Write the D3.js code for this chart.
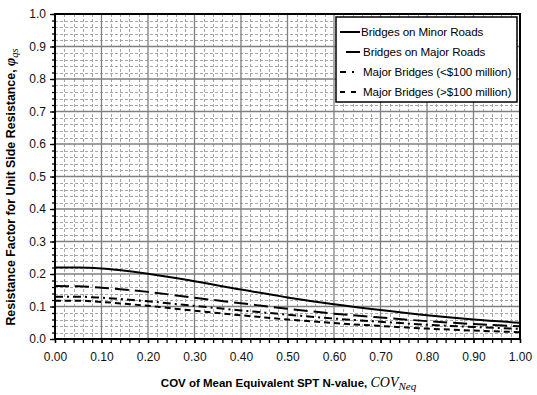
<!DOCTYPE html>
<html>
<head>
<meta charset="utf-8">
<script src="https://cdn.jsdelivr.net/npm/d3@7"></script>
<style>
  body { margin: 0; background: #fff; }
  svg { font-family: "Liberation Sans", Arial, sans-serif; }
</style>
</head>
<body>
<svg width="537" height="395"></svg>
<script>
// COV values along the x axis
var covValues = [0, 0.05, 0.1, 0.2, 0.3, 0.4, 0.5, 0.6, 0.7, 0.8, 0.9, 1.0];

var minorRoads   = [0.220, 0.220, 0.217, 0.201, 0.178, 0.152, 0.128, 0.107, 0.089, 0.073, 0.060, 0.050];
var majorRoads   = [0.163, 0.162, 0.158, 0.145, 0.127, 0.110, 0.093, 0.078, 0.066, 0.055, 0.046, 0.039];
var majorBelow   = [0.130, 0.130, 0.127, 0.116, 0.102, 0.088, 0.075, 0.063, 0.053, 0.044, 0.037, 0.031];
var majorAbove   = [0.118, 0.118, 0.114, 0.102, 0.087, 0.073, 0.060, 0.049, 0.040, 0.032, 0.026, 0.021];

var seriesNames = ["Bridges on Minor Roads", "Bridges on Major Roads",
                   "Major Bridges (<$100 million)", "Major Bridges (>$100 million)"];
var xTickValues = [0, 0.1, 0.2, 0.3, 0.4, 0.5, 0.6, 0.7, 0.8, 0.9, 1.0];
var yTickValues = [0, 0.1, 0.2, 0.3, 0.4, 0.5, 0.6, 0.7, 0.8, 0.9, 1.0];

(function() {
    var margin = {top: 14, left: 55, right: 17, bottom: 56},
        width = 537 - margin.left - margin.right,
        height = 395 - margin.top - margin.bottom;

    var svg = d3.select("svg");

    var x = d3.scaleLinear().domain([0, 1]).range([0, width]);
    var y = d3.scaleLinear().domain([0, 1]).range([height, 0]);

    var g = svg.append("g")
        .attr("transform", "translate(" + margin.left + "," + margin.top + ")");

    var minorSteps = d3.range(0, 51).map(function(i) { return i / 50; });
    var minorOnly = minorSteps.filter(function(d, i) { return i % 5 !== 0; });

    // minor grid (dashed)
    g.append("g").selectAll("line")
        .data(minorOnly).enter().append("line")
        .attr("x1", function(d) { return Math.round(x(d)) + 0.5; })
        .attr("x2", function(d) { return Math.round(x(d)) + 0.5; })
        .attr("y1", 0).attr("y2", height)
        .attr("stroke", "#a6a6a6").attr("stroke-width", 1).attr("stroke-dasharray", "3,2");
    g.append("g").selectAll("line")
        .data(minorOnly).enter().append("line")
        .attr("y1", function(d) { return Math.round(y(d)) + 0.5; })
        .attr("y2", function(d) { return Math.round(y(d)) + 0.5; })
        .attr("x1", 0).attr("x2", width)
        .attr("stroke", "#a6a6a6").attr("stroke-width", 1).attr("stroke-dasharray", "3,2");

    // major grid
    g.append("g").selectAll("line")
        .data(xTickValues).enter().append("line")
        .attr("x1", function(d) { return x(d); }).attr("x2", function(d) { return x(d); })
        .attr("y1", 0).attr("y2", height)
        .attr("stroke", "#7f7f7f").attr("stroke-width", 1.3);
    g.append("g").selectAll("line")
        .data(yTickValues).enter().append("line")
        .attr("y1", function(d) { return y(d); }).attr("y2", function(d) { return y(d); })
        .attr("x1", 0).attr("x2", width)
        .attr("stroke", "#7f7f7f").attr("stroke-width", 1.3);

    // curves
    var allSeries = [minorRoads, majorRoads, majorBelow, majorAbove];
    var dashes = [null, "14,6", "8,4,2,4", "6,4"];

    var line = d3.line()
        .x(function(d, i) { return x(covValues[i]); })
        .y(function(d) { return y(d); })
        .curve(d3.curveMonotoneX);

    g.append("g").selectAll("path")
        .data(allSeries).enter().append("path")
        .attr("d", line)
        .attr("fill", "none")
        .attr("stroke", "#000")
        .attr("stroke-width", 2)
        .attr("stroke-dasharray", function(d, i) { return dashes[i]; });

    // plot border
    g.append("rect")
        .attr("width", width).attr("height", height)
        .attr("fill", "none").attr("stroke", "#000").attr("stroke-width", 2);

    // axes
    var yMinor = d3.axisLeft(y).tickValues(minorSteps).tickSize(3).tickFormat("");
    var yMajor = d3.axisLeft(y).tickValues(yTickValues).tickSize(5).tickPadding(4)
        .tickFormat(d3.format(".1f"));
    var xMinor = d3.axisBottom(x).tickValues(minorSteps).tickSize(4).tickFormat("");
    var xMajor = d3.axisBottom(x).tickValues(xTickValues).tickSize(4).tickPadding(9)
        .tickFormat(d3.format(".2f"));

    [yMinor, yMajor].forEach(function(ax) {
        g.append("g").attr("class", "y axis").call(ax);
    });
    [xMinor, xMajor].forEach(function(ax) {
        g.append("g").attr("class", "x axis")
            .attr("transform", "translate(0," + height + ")").call(ax);
    });
    g.selectAll(".axis .domain").remove();
    g.selectAll(".axis line").attr("stroke", "#000").attr("stroke-width", 1.3);
    g.selectAll(".axis text")
        .attr("font-size", 12)
        .attr("font-family", "Liberation Sans, Arial, sans-serif")
        .attr("fill", "#111");

    // legend
    var legend = g.append("g").attr("transform", "translate(" + Math.round(x(0.605)) + "," + 3 + ")");
    legend.append("rect")
        .attr("width", Math.round(x(0.995) - x(0.605))).attr("height", 85)
        .attr("fill", "#fff").attr("stroke", "#000").attr("stroke-width", 1.5);
    var item = legend.selectAll("g.item")
        .data(seriesNames).enter().append("g")
        .attr("transform", function(d, i) { return "translate(0," + (15 + i * 20) + ")"; });
    item.append("line")
        .attr("x1", 4).attr("x2", 24)
        .attr("stroke", "#000").attr("stroke-width", 2)
        .attr("stroke-dasharray", function(d, i) { return [null, "0,6,14,6", "6,6,2,6", "5,6"][i]; });
    item.append("text")
        .attr("x", function(d, i) { return i === 0 ? 25 : 27; })
        .attr("dy", "0.35em")
        .attr("font-size", 11.6)
        .attr("letter-spacing", -0.1)
        .text(function(d) { return d; });

    // axis titles
    var xt = svg.append("text")
        .attr("x", margin.left + width / 2 + 1)
        .attr("y", 387)
        .attr("text-anchor", "middle")
        .attr("font-size", 11.5)
        .attr("font-weight", "bold");
    xt.append("tspan").text("COV of Mean Equivalent SPT N-value, ");
    xt.append("tspan").attr("font-family", "Liberation Serif, Times New Roman, serif")
        .attr("font-style", "italic").attr("font-size", 14).attr("font-weight", "normal").text("COV");
    xt.append("tspan").attr("font-family", "Liberation Serif, Times New Roman, serif")
        .attr("font-style", "italic").attr("font-size", 11).attr("font-weight", "normal")
        .attr("dy", 3).text("Neq");

    var yt = svg.append("text")
        .attr("transform", "translate(15,187) rotate(-90)")
        .attr("text-anchor", "middle")
        .attr("font-size", 12.4)
        .attr("font-weight", "bold");
    yt.append("tspan").text("Resistance Factor for Unit Side Resistance, ");
    yt.append("tspan").attr("font-family", "Liberation Serif, Times New Roman, serif")
        .attr("font-style", "italic").attr("font-size", 14).text("\u03c6");
    yt.append("tspan").attr("font-family", "Liberation Serif, Times New Roman, serif")
        .attr("font-style", "italic").attr("font-size", 10.5).attr("font-weight", "normal")
        .attr("dy", 3).text("qs");
})();
</script>
</body>
</html>
